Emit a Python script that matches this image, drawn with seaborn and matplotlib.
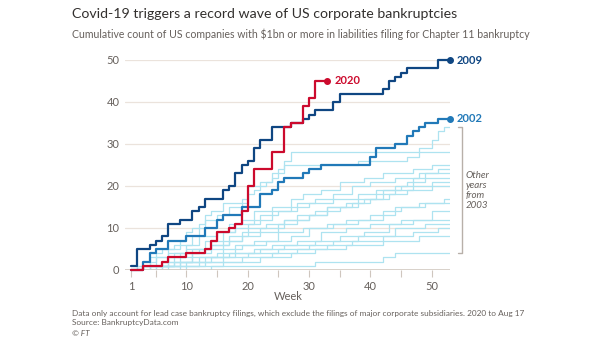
import matplotlib
matplotlib.use("Agg")
import matplotlib.pyplot as plt
import numpy as np
import pandas as pd
import seaborn as sns

# ---------------- data ----------------
END_WEEK = 53
END_WEEK_2020 = 33

weeks_2020 = [1, 3, 6, 7, 10, 13, 14, 15, 17, 18, 19, 20, 21, 24, 26, 27, 29, 30, 31]
count_2020 = [0, 1, 2, 3, 4, 5, 7, 9, 10, 11, 14, 20, 24, 28, 34, 35, 39, 41, 45]

weeks_2009 = [1, 2, 4, 5, 6, 7, 9, 11, 12, 13, 16, 17, 18, 19, 20, 21, 22, 24, 27, 29,
              30, 31, 34, 35, 42, 43, 44, 45, 46, 51]
count_2009 = [1, 5, 6, 7, 8, 11, 12, 14, 15, 17, 19, 20, 23, 25, 26, 29, 31, 34, 35, 36,
              37, 38, 40, 42, 43, 45, 46, 47, 48, 50]

weeks_2002 = [1, 3, 4, 5, 7, 10, 13, 15, 16, 19, 22, 24, 25, 26, 29, 30, 32, 40, 41, 44,
              46, 47, 48, 49, 51]
count_2002 = [0, 2, 4, 5, 7, 8, 10, 12, 13, 15, 18, 19, 21, 22, 23, 24, 25, 27, 29, 30,
              32, 33, 34, 35, 36]

# other years (2003-2019 excluding 2009)
w2003 = [1, 2, 4, 5, 6, 8, 9, 10, 11, 12, 13, 14, 16, 19, 20, 22, 24, 26, 38, 46, 48, 50, 51, 52]
c2003 = [0, 1, 2, 4, 5, 6, 7, 9, 10, 11, 13, 14, 16, 17, 20, 21, 23, 25, 26, 27, 29, 31, 33, 34]
w2004 = [1, 3, 5, 7, 9, 11, 12, 13, 15, 17, 19, 20, 21, 22, 23, 24, 25, 26, 27]
c2004 = [0, 1, 3, 5, 6, 8, 10, 12, 13, 15, 16, 18, 19, 20, 21, 22, 24, 26, 28]
w2005 = [1, 4, 6, 8, 10, 13, 15, 17, 19, 21, 24, 27, 29, 32, 35, 39, 42, 47, 50]
c2005 = [0, 1, 2, 4, 5, 7, 9, 11, 12, 14, 15, 17, 18, 19, 21, 22, 23, 24, 25]
w2006 = [1, 5, 7, 9, 12, 14, 16, 18, 20, 22, 25, 28, 31, 34, 37, 40, 44, 48, 51]
c2006 = [0, 1, 3, 4, 5, 7, 9, 10, 11, 13, 14, 16, 17, 18, 20, 21, 22, 23, 24]
w2007 = [1, 3, 6, 9, 11, 14, 17, 19, 22, 26, 30, 33, 36, 39, 42, 45, 47, 49]
c2007 = [0, 1, 2, 3, 5, 6, 7, 9, 10, 12, 13, 15, 16, 17, 19, 20, 22, 23]
w2008 = [1, 2, 4, 7, 10, 12, 15, 18, 21, 24, 27, 30, 34, 38, 41, 44, 46, 49]
c2008 = [0, 1, 3, 4, 6, 8, 9, 11, 12, 14, 15, 16, 17, 18, 19, 20, 21, 22]
w2010 = [1, 6, 8, 11, 13, 16, 19, 22, 25, 28, 31, 35, 38, 41, 44, 47, 50]
c2010 = [0, 1, 2, 4, 5, 7, 8, 9, 11, 13, 14, 15, 17, 18, 19, 20, 21]
w2011 = [1, 4, 7, 10, 14, 17, 20, 23, 26, 30, 33, 37, 40, 43, 46, 50]
c2011 = [0, 1, 3, 4, 6, 8, 10, 11, 12, 13, 15, 16, 17, 18, 19, 20]
w2012 = [1, 5, 9, 12, 16, 19, 23, 27, 30, 34, 38, 42, 45, 48, 52]
c2012 = [0, 1, 2, 3, 5, 6, 7, 8, 10, 11, 12, 14, 15, 16, 17]
w2013 = [1, 3, 8, 11, 15, 18, 21, 25, 29, 33, 36, 40, 44, 49]
c2013 = [0, 1, 2, 3, 4, 6, 7, 9, 10, 11, 12, 13, 15, 16]
w2014 = [1, 7, 10, 13, 17, 21, 24, 28, 32, 36, 40, 45, 50]
c2014 = [0, 1, 2, 3, 4, 5, 6, 7, 9, 10, 11, 12, 14]
w2015 = [1, 4, 9, 14, 18, 22, 26, 31, 35, 39, 43, 47]
c2015 = [0, 1, 2, 3, 4, 5, 6, 7, 8, 9, 11, 12]
w2016 = [1, 9, 12, 16, 20, 25, 30, 34, 38, 44, 49]
c2016 = [0, 1, 2, 3, 4, 5, 6, 7, 8, 10, 11]
w2017 = [1, 6, 13, 19, 24, 28, 33, 37, 42, 47, 51]
c2017 = [0, 1, 2, 3, 4, 5, 6, 7, 8, 9, 10]
w2018 = [1, 10, 16, 22, 27, 31, 36, 42, 48]
c2018 = [0, 1, 2, 3, 4, 5, 6, 7, 8]
w2019 = [1, 14, 31, 42, 44]
c2019 = [0, 1, 2, 3, 4]

x_tick_labels = [1, 10, 20, 30, 40, 50]
x_minor_ticks = [5, 15, 25, 35, 45]
y_ticks = [0, 10, 20, 30, 40, 50]

TITLE = "Covid-19 triggers a record wave of US corporate bankruptcies"
SUBTITLE = "Cumulative count of US companies with $1bn or more in liabilities filing for Chapter 11 bankruptcy"
NOTE = ("Data only account for lead case bankruptcy filings, which exclude the filings of "
        "major corporate subsidiaries. 2020 to Aug 17")
SOURCE = "Source: BankruptcyData.com"
CREDIT = "\u00a9 FT"

# ---------------- build frames ----------------
def frame(year, weeks, counts, end):
    w = list(weeks) + [end]
    c = list(counts) + [counts[-1]]
    return pd.DataFrame({"year": year, "week": w, "count": c})

others = [("2003", w2003, c2003), ("2004", w2004, c2004), ("2005", w2005, c2005),
          ("2006", w2006, c2006), ("2007", w2007, c2007), ("2008", w2008, c2008),
          ("2010", w2010, c2010), ("2011", w2011, c2011), ("2012", w2012, c2012),
          ("2013", w2013, c2013), ("2014", w2014, c2014), ("2015", w2015, c2015),
          ("2016", w2016, c2016), ("2017", w2017, c2017), ("2018", w2018, c2018),
          ("2019", w2019, c2019)]
df_other = pd.concat([frame(y, w, c, END_WEEK) for y, w, c in others], ignore_index=True)
df_2002 = frame("2002", weeks_2002, count_2002, END_WEEK)
df_2009 = frame("2009", weeks_2009, count_2009, END_WEEK)
df_2020 = frame("2020", weeks_2020, count_2020, END_WEEK_2020)

# ---------------- style ----------------
sns.set_theme(style="white")
plt.rcParams["font.family"] = ["Lato", "DejaVu Sans"]

GREY = "#66605c"
GRID = "#ebe3dc"
LIGHT = "#aee3f0"
C2020 = "#cc0a2d"
C2009 = "#0f4682"
C2002 = "#2179b8"

fig = plt.figure(figsize=(6.05, 3.41), dpi=100)
fig.patch.set_facecolor("white")
ax = fig.add_axes([125 / 605, 71 / 341, 325 / 605, 210 / 341])
ax.set_facecolor("white")

sns.lineplot(data=df_other, x="week", y="count", units="year", estimator=None,
             drawstyle="steps-post", color=LIGHT, lw=0.9, ax=ax, legend=False,
             sort=False, zorder=2)
for d, col in [(df_2002, C2002), (df_2009, C2009), (df_2020, C2020)]:
    sns.lineplot(data=d, x="week", y="count", estimator=None, drawstyle="steps-post",
                 color=col, lw=1.6, ax=ax, legend=False, sort=False, zorder=4,
                 clip_on=False)
    ax.plot(d["week"].iloc[-1], d["count"].iloc[-1], "o", color=col, ms=4,
            zorder=5, clip_on=False)
    ax.annotate(d["year"].iloc[0], (d["week"].iloc[-1], d["count"].iloc[-1]),
                xytext=(5, 0), textcoords="offset points", va="center", ha="left",
                color=col, fontsize=8, fontweight="bold", annotation_clip=False)

ax.set_xlim(0, END_WEEK)
ax.set_ylim(0, 50)
for s in ax.spines.values():
    s.set_visible(False)
ax.set_yticks(y_ticks)
ax.set_yticklabels([str(v) for v in y_ticks])
ax.set_xticks(x_tick_labels)
ax.set_xticklabels([str(v) for v in x_tick_labels])
ax.set_xticks(x_minor_ticks, minor=True)
ax.tick_params(axis="y", length=0, pad=4, labelsize=8, labelcolor=GREY)
ax.tick_params(axis="x", which="both", length=5, width=0.8, color="#cfc6be",
               pad=3, labelsize=8, labelcolor=GREY, direction="out", bottom=True)
for v in y_ticks[1:]:
    ax.axhline(v, color=GRID, lw=0.9, zorder=1)
ax.axhline(0, color="#d2c9c1", lw=1.2, zorder=3)
ax.grid(False)
ax.set_xlabel("")
ax.set_ylabel("")

# bracket for other years
ends = [c[-1] for _, _, c in others]
lo, hi = min(ends), max(ends)
bx0, bx1 = END_WEEK + 1.3, END_WEEK + 1.9
ax.plot([bx0, bx1, bx1, bx0], [hi, hi, lo, lo], color="#b8b0a9", lw=1.0, clip_on=False)
ax.text(END_WEEK + 2.6, (lo + hi) / 2, "Other\nyears\nfrom\n2003", fontsize=7,
        style="italic", color=GREY, va="center", ha="left", linespacing=1.15)

fig.text(288 / 605, 1 - 297 / 341, "Week", ha="center", va="center", fontsize=8, color=GREY)
fig.text(72 / 605, 1 - 14 / 341, TITLE, ha="left", va="center", fontsize=10.2, color="#33302e")
fig.text(72 / 605, 1 - 34 / 341, SUBTITLE, ha="left", va="center", fontsize=7.6, color=GREY)
fig.text(72 / 605, 1 - 313 / 341, NOTE, ha="left", va="center", fontsize=5.95, color=GREY)
fig.text(72 / 605, 1 - 323 / 341, SOURCE, ha="left", va="center", fontsize=5.95, color=GREY)
fig.text(72 / 605, 1 - 333 / 341, CREDIT, ha="left", va="center", fontsize=5.95, color=GREY,
         style="italic")

fig.savefig("out.png", dpi=100, facecolor="white")
